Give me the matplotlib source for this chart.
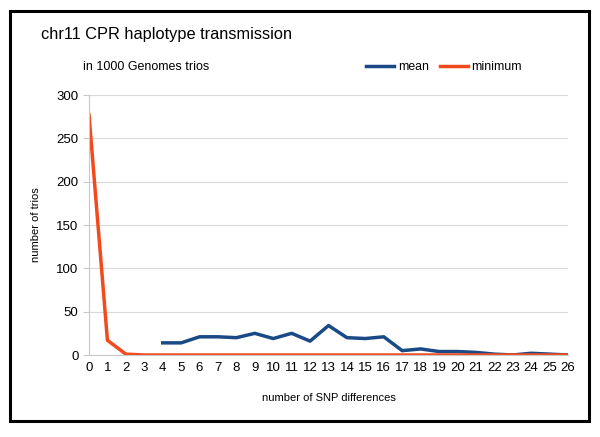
import matplotlib
matplotlib.use("Agg")
import matplotlib.pyplot as plt
from matplotlib.patches import Rectangle

plt.rcParams['font.family'] = ['Liberation Sans', 'DejaVu Sans']

# number of SNP differences
snp_diff = list(range(0, 27))

# mean series starts at 4 differences
mean_x = list(range(4, 27))
mean_trios = [14, 14, 21, 21, 20, 25, 19, 25, 16, 34, 20, 19, 21,
              5, 7, 4, 4, 3, 1, 0, 2, 1, 0]

minimum_trios = [277, 17, 1] + [0] * 24

fig = plt.figure(figsize=(6, 4.37), dpi=100)
fig.patch.set_facecolor('white')

# black frame around everything
fig.patches.append(Rectangle((10 / 600, 1 - 421 / 437), 579 / 600, 410 / 437,
                             transform=fig.transFigure, fill=False,
                             edgecolor='black', linewidth=2.2))

ax = fig.add_axes([89 / 600, 1 - 355 / 437, 479 / 600, 260 / 437])

ax.plot(mean_x, mean_trios, color='#1a4a85', linewidth=2.5, label='mean')
ax.plot(snp_diff, minimum_trios, color='#f24a1c', linewidth=2.5, label='minimum')

ax.set_xlim(0, 26)
ax.set_ylim(0, 300)
ax.set_xticks(snp_diff)
ax.set_yticks(range(0, 301, 50))
ax.grid(axis='y', color='#d9d9d9', linewidth=0.8)
ax.set_axisbelow(True)
for s in ['top', 'right']:
    ax.spines[s].set_visible(False)
for s in ['left', 'bottom']:
    ax.spines[s].set_color('#c8c8c8')
    ax.spines[s].set_linewidth(0.8)
ax.tick_params(axis='both', colors='#c8c8c8', labelcolor='black', labelsize=9.5, length=4)
ax.tick_params(axis='x', length=0, pad=5)

ax.set_xlabel('number of SNP differences', fontsize=8, labelpad=14)
ax.set_ylabel('number of trios', fontsize=8, labelpad=11)

fig.text(41 / 600, 1 - 35 / 437, 'chr11 CPR haplotype transmission', fontsize=11.8,
         va='center', ha='left')
fig.text(83 / 600, 1 - 67 / 437, 'in 1000 Genomes trios', fontsize=9,
         va='center', ha='left')

fig.legend(loc='center', bbox_to_anchor=(444 / 600, 1 - 67 / 437), ncol=2,
           frameon=False, fontsize=8.8, handlelength=2.3, handletextpad=0.3,
           columnspacing=0.9)

fig.savefig('out.png', dpi=100)
